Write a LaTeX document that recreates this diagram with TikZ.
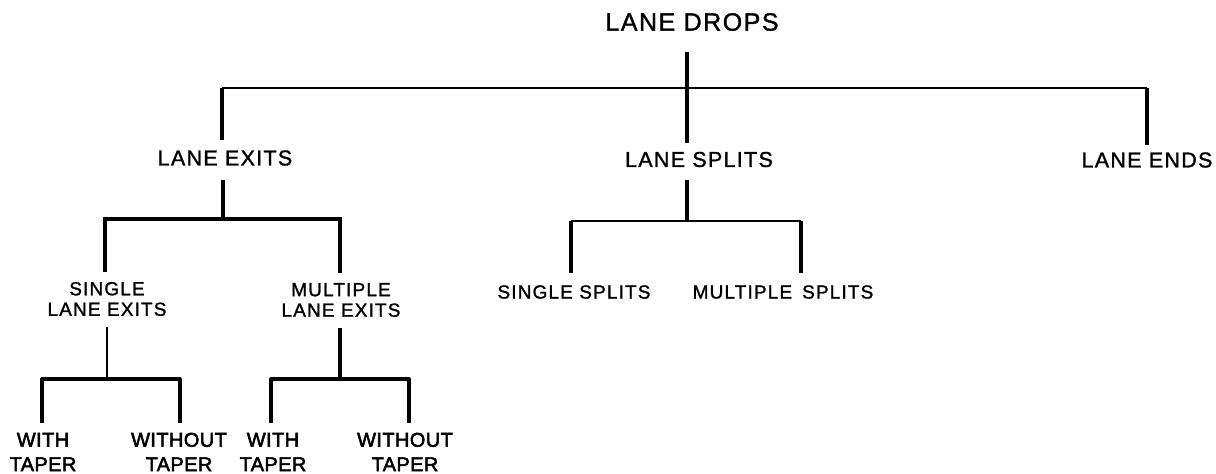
\documentclass[tikz,border=0pt]{standalone}
\usepackage{fontspec}
\newfontfamily\labfont[LetterSpace=6,FakeBold=1.3]{Liberation Sans}
\newfontfamily\boldlabfont[LetterSpace=2,FakeBold=2.6]{Liberation Sans}
\begin{document}
\begin{tikzpicture}[x=1pt,y=-1pt,
  lbl/.style={inner sep=0pt,font=\labfont\fontsize{21.5}{24}\selectfont},
  big/.style={inner sep=0pt,font=\labfont\fontsize{25}{27}\selectfont},
  small/.style={inner sep=0pt,align=center,font=\labfont\fontsize{19}{20.5}\selectfont},
  tiny/.style={inner sep=0pt,align=center,font=\boldlabfont\fontsize{20}{24.5}\selectfont},
  ln/.style={line width=3.2pt,line cap=butt},
  thinln/.style={line width=2.2pt}]
\useasboundingbox (0,0) rectangle (1216,474);
% texts
\node[big] (drops) at (692,22) {LANE DROPS};
\node[lbl] (exits) at (225,158) {LANE EXITS};
\node[lbl] (splits) at (699,159.5) {LANE SPLITS};
\node[lbl] (ends) at (1147,160) {LANE ENDS};
\node[small] (sle) at (107,299) {SINGLE\\LANE EXITS};
\node[small] (mle) at (341,300) {MULTIPLE\\LANE EXITS};
\node[small] (ss) at (574,292) {SINGLE SPLITS};
\node[small] (ms) at (783,292) {MULTIPLE\hspace{10pt}SPLITS};
\node[tiny] (wt1) at (43,452) {WITH\\TAPER};
\node[tiny] (wo1) at (179,452) {WITHOUT\\TAPER};
\node[tiny] (wt2) at (273,452) {WITH\\TAPER};
\node[tiny] (wo2) at (405,452) {WITHOUT\\TAPER};
% level 1
\coordinate (dTop) at (687,52);
\coordinate (sTop) at (687,143);
\coordinate (eTop) at (222,140);
\coordinate (nTop) at (1147,145);
\coordinate (bL) at (222,88);
\coordinate (bR) at (1147,88);
\draw[thinln] (bL) -- (bR);
\draw[ln] (dTop) -- (sTop);
\draw[ln] (bL) -- (eTop);
\draw[ln] (bR) -- (nTop);
% lane exits
\coordinate (x0) at (223,180);
\coordinate (x1) at (105,219);
\coordinate (x2) at (340,219);
\draw[ln] (x0) -- (x0 |- x1);
\draw[ln] (x1 |- 0,272) -- (x1) -- (x2) -- (x2 |- 0,273);
% lane splits
\coordinate (p0) at (687,180);
\coordinate (p1) at (571,221);
\coordinate (p2) at (801,221);
\draw[ln] (p0) -- (p0 |- p1);
\draw[thinln] (p1) -- (p2);
\draw[ln] (p1) -- (p1 |- 0,273);
\draw[ln] (p2) -- (p2 |- 0,273);
% single lane exits
\coordinate (a0) at (107,327);
\coordinate (a1) at (42,379);
\coordinate (a2) at (180,379);
\draw[thinln] (a0) -- (a0 |- a1);
\draw[ln,line join=round] (a1 |- 0,423) -- (a1) -- (a2) -- (a2 |- 0,423);
% multiple lane exits
\coordinate (m0) at (340,328);
\coordinate (m1) at (271,379);
\coordinate (m2) at (409,379);
\draw[ln] (m0) -- (m0 |- m1);
\draw[ln,line join=round] (m1 |- 0,423) -- (m1) -- (m2) -- (m2 |- 0,423);
\end{tikzpicture}
\end{document}
